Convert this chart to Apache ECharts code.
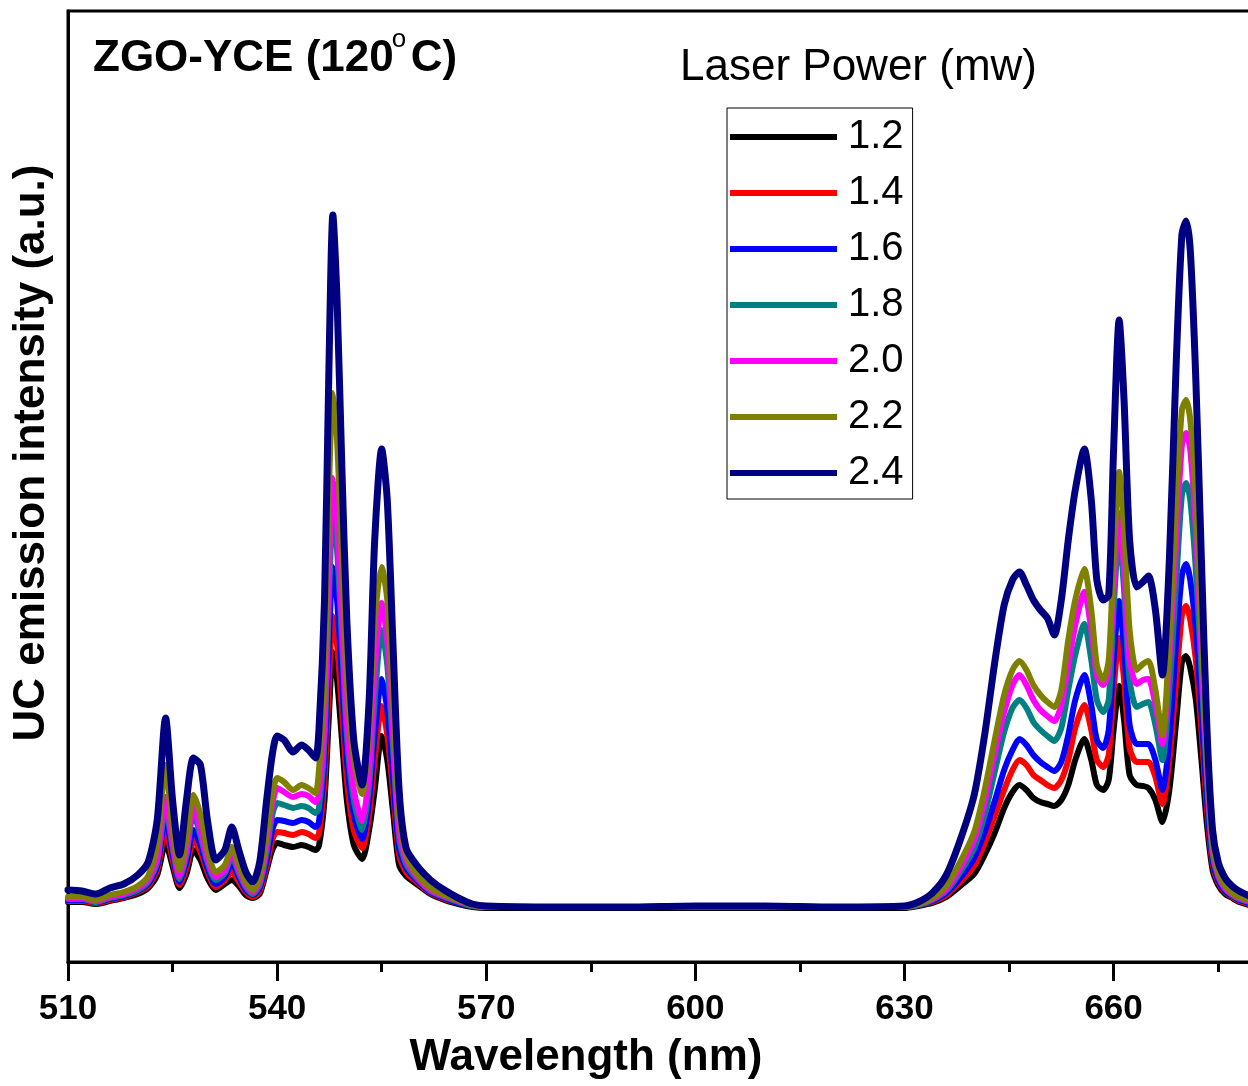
<!DOCTYPE html>
<html>
<head>
<meta charset="utf-8">
<title>ZGO-YCE UC emission</title>
<script src="https://cdn.jsdelivr.net/npm/echarts@6/dist/echarts.min.js"></script>
<style>
  html, body { margin: 0; padding: 0; background: #fff; overflow: hidden; }
  #main { width: 1256px; height: 1086px; }
</style>
</head>
<body>
<div id="main"></div>
<script>
// wavelength (nm)
var wavelength = [
  510, 512, 514, 516, 518, 520, 521.5, 522.8, 524, 525,
  526, 527, 528, 529, 530, 531.2, 532.5, 533.5, 534.5, 535.5,
  536.5, 537.5, 538.5, 539.3, 540, 541, 542.3, 543.5, 544.5, 545.5,
  546, 546.8, 547.4, 548, 548.6, 549.3, 550, 551, 552.2, 553.2,
  554, 555, 555.8, 556.6, 557.5, 558.5, 560, 562, 564, 566,
  568, 570, 580, 590, 600, 610, 620, 630, 632, 634,
  636, 638, 640, 641.5, 643, 644.3, 645.5, 646.5, 647.5, 648.5,
  649.5, 650.5, 651.5, 652.5, 653.5, 654.5, 655.8, 656.8, 657.6, 658.5,
  659.3, 660, 660.8, 661.5, 662.3, 663.3, 664.2, 665, 666, 667,
  668, 669, 669.8, 670.4, 671, 671.8, 672.6, 673.4, 674.2, 675,
  676, 677, 678, 679.5
];

// intensity (a.u.) for each laser power
var p12 = [
  60, 60, 58, 61, 64, 68, 74, 87, 119, 96,
  74, 88, 112, 102, 84, 72, 78, 82, 76, 67,
  64, 68, 92, 112, 119, 117, 115, 117, 115, 112,
  116, 162, 242, 310, 282, 222, 162, 117, 103, 132,
  172, 226, 202, 152, 97, 86, 78, 68, 62, 58,
  55, 54, 54, 54, 54, 54, 54, 54, 56, 59,
  65, 76, 88, 107, 130, 154, 170, 177, 172, 164,
  160, 158, 156, 162, 177, 202, 223, 202, 177, 172,
  182, 232, 276, 242, 187, 177, 176, 174, 162, 140,
  172, 242, 300, 306, 294, 262, 202, 137, 92, 77,
  68, 64, 60, 57
];
var p14 = [
  61, 61, 59, 62, 65, 70, 76, 92, 132, 102,
  77, 94, 122, 110, 90, 75, 82, 90, 80, 70,
  65, 71, 96, 122, 130, 129, 127, 130, 128, 124,
  128, 182, 272, 346, 317, 252, 182, 132, 114, 147,
  202, 256, 227, 172, 107, 90, 80, 69, 63, 59,
  56, 55, 55, 55, 55, 55, 55, 55, 57, 60,
  67, 80, 96, 119, 147, 172, 192, 202, 197, 187,
  182, 177, 174, 182, 202, 234, 257, 232, 202, 195,
  207, 272, 324, 282, 214, 200, 200, 200, 185, 158,
  202, 282, 347, 356, 342, 302, 232, 152, 98, 80,
  70, 65, 61, 58
];
var p16 = [
  62, 62, 60, 63, 66, 71, 78, 96, 145, 108,
  80, 100, 132, 117, 94, 78, 85, 99, 85, 72,
  67, 74, 102, 132, 142, 141, 139, 142, 140, 135,
  140, 202, 312, 395, 362, 282, 202, 147, 123, 162,
  227, 283, 252, 187, 114, 94, 82, 70, 64, 59,
  56, 55, 55, 55, 55, 55, 55, 55, 57, 61,
  69, 84, 104, 130, 162, 192, 212, 223, 217, 207,
  200, 195, 191, 200, 227, 262, 287, 257, 222, 214,
  232, 302, 361, 312, 237, 218, 218, 218, 202, 172,
  222, 322, 387, 398, 382, 332, 252, 162, 102, 82,
  71, 66, 62, 59
];
var p18 = [
  63, 63, 60, 64, 67, 72, 80, 100, 155, 114,
  83, 107, 149, 126, 100, 82, 89, 105, 89, 75,
  68, 77, 110, 147, 159, 157, 154, 156, 154, 149,
  154, 222, 352, 449, 412, 322, 227, 162, 132, 177,
  262, 332, 297, 217, 124, 98, 84, 71, 65, 60,
  56, 55, 55, 55, 55, 55, 55, 55, 57, 62,
  71, 90, 114, 147, 192, 230, 254, 262, 254, 240,
  232, 226, 221, 234, 272, 307, 338, 302, 262, 250,
  262, 352, 430, 372, 282, 255, 258, 260, 237, 202,
  272, 382, 467, 479, 462, 392, 292, 182, 108, 85,
  73, 67, 63, 60
];
var p20 = [
  64, 64, 61, 65, 68, 74, 82, 104, 165, 119,
  86, 112, 155, 132, 104, 85, 92, 109, 92, 77,
  70, 80, 117, 157, 174, 170, 165, 168, 166, 160,
  167, 242, 382, 484, 442, 342, 242, 172, 141, 192,
  292, 359, 322, 232, 132, 102, 86, 72, 66, 61,
  57, 55, 55, 55, 55, 55, 55, 55, 58, 63,
  73, 94, 122, 160, 210, 250, 277, 287, 277, 262,
  252, 246, 241, 257, 297, 337, 370, 332, 287, 277,
  290, 372, 449, 392, 302, 278, 282, 283, 257, 218,
  302, 422, 517, 529, 512, 432, 312, 192, 112, 87,
  74, 68, 64, 61
];
var p22 = [
  65, 65, 62, 67, 70, 76, 86, 117, 197, 132,
  92, 122, 167, 147, 112, 90, 97, 115, 97, 80,
  72, 84, 127, 167, 184, 180, 172, 177, 174, 169,
  192, 282, 462, 569, 522, 402, 282, 202, 168, 232,
  342, 395, 362, 262, 147, 107, 88, 74, 67, 62,
  57, 55, 55, 55, 55, 55, 55, 55, 58, 64,
  76, 100, 130, 172, 224, 267, 292, 301, 292, 277,
  267, 260, 255, 272, 322, 362, 393, 352, 297, 282,
  302, 402, 490, 432, 332, 292, 298, 301, 272, 227,
  322, 462, 552, 562, 542, 462, 332, 202, 117, 90,
  76, 69, 65, 62
];
var p24 = [
  72, 71, 68, 74, 78, 87, 100, 142, 244, 162,
  107, 162, 204, 197, 142, 102, 112, 135, 112, 90,
  80, 100, 162, 207, 226, 222, 210, 217, 212, 204,
  232, 362, 582, 747, 662, 492, 342, 222, 177, 262,
  422, 513, 462, 322, 172, 114, 97, 82, 72, 64,
  58, 56, 55, 55, 56, 56, 55, 56, 60, 69,
  87, 122, 167, 227, 302, 357, 382, 390, 377, 362,
  352, 344, 327, 362, 422, 472, 513, 462, 382, 362,
  367, 512, 642, 562, 422, 375, 380, 386, 352, 287,
  402, 602, 727, 741, 712, 582, 402, 232, 132, 100,
  84, 76, 71, 66
];

var powers = ['1.2', '1.4', '1.6', '1.8', '2.0', '2.2', '2.4'];
var spectra = [p12, p14, p16, p18, p20, p22, p24];
var colors = ['#000000', '#ff0000', '#0000ff', '#008080', '#ff00ff', '#808000', '#000080'];

var font = '"Liberation Sans", Arial, sans-serif';

var myChart = echarts.init(document.getElementById('main'));

var series = [];
for (var s = 0; s < powers.length; s++) {
  var arr = spectra[s];
  series.push({
    name: powers[s],
    type: 'line',
    symbol: 'none',
    smooth: 0.25,
    data: wavelength.map(function (w, i) { return [w, arr[i]]; }),
    lineStyle: { color: colors[s], width: s === 6 ? 7 : 6, cap: 'round', join: 'round' },
    itemStyle: { color: colors[s] },
    z: 2 + s
  });
}

myChart.setOption({
  animation: false,
  backgroundColor: '#fff',
  title: {
    left: 88,
    top: 30,
    // gap token leaves room for the raised "o" (degree) drawn below
    text: '{b|ZGO-YCE (120}{g| }{b|C)}',
    textStyle: {
      rich: {
        b: { fontFamily: font, fontWeight: 'bold', fontSize: 44, color: '#000', lineHeight: 48 },
        g: { fontSize: 44, lineHeight: 48, width: 17 }
      }
    }
  },
  graphic: [
    {
      type: 'text', x: 399, y: 40,
      style: { text: 'o', font: '26px ' + font, fill: '#000', align: 'center', verticalAlign: 'middle' }
    },
    {
      type: 'text', left: 680, top: 46,
      style: { text: 'Laser Power (mw)', font: '44px ' + font, fill: '#000' }
    },
    {
      type: 'text', x: 586, y: 1058,
      style: { text: 'Wavelength (nm)', font: 'bold 44px ' + font, fill: '#000', align: 'center', verticalAlign: 'middle' }
    },
    {
      type: 'text', x: 32, y: 453, rotation: Math.PI / 2,
      style: { text: 'UC emission intensity (a.u.)', font: 'bold 44px ' + font, fill: '#000', align: 'center', verticalAlign: 'middle' }
    }
  ],
  legend: {
    orient: 'vertical',
    left: 727,
    top: 108,
    data: powers,
    icon: 'rect',
    itemWidth: 107,
    itemHeight: 6,
    itemGap: 10,
    padding: [6, 9, 3, 3],
    borderColor: '#000',
    borderWidth: 1,
    backgroundColor: '#fff',
    textStyle: { fontFamily: font, fontSize: 40, color: '#000', lineHeight: 46, padding: [0, 0, 0, 6] }
  },
  grid: {
    left: 68,
    right: 3,
    top: 11,
    bottom: 124,
    outerBoundsMode: 'none',
    containLabel: false,
    show: true,
    borderColor: '#000',
    borderWidth: 3
  },
  xAxis: {
    type: 'value',
    min: 510,
    max: 680,
    interval: 30,
    axisLine: { show: true, lineStyle: { color: '#000', width: 3 } },
    axisTick: { show: true, inside: false, length: 19, lineStyle: { color: '#000', width: 3 } },
    minorTick: { show: true, splitNumber: 2, length: 10, lineStyle: { color: '#000', width: 3 } },
    splitLine: { show: false },
    axisLabel: { fontFamily: font, fontWeight: 'bold', fontSize: 35, color: '#000', margin: 30, showMaxLabel: false }
  },
  yAxis: {
    type: 'value',
    min: 0,
    max: 951,
    axisLine: { show: true, lineStyle: { color: '#000', width: 3 } },
    axisTick: { show: false },
    axisLabel: { show: false },
    splitLine: { show: false }
  },
  series: series
});
</script>
</body>
</html>
